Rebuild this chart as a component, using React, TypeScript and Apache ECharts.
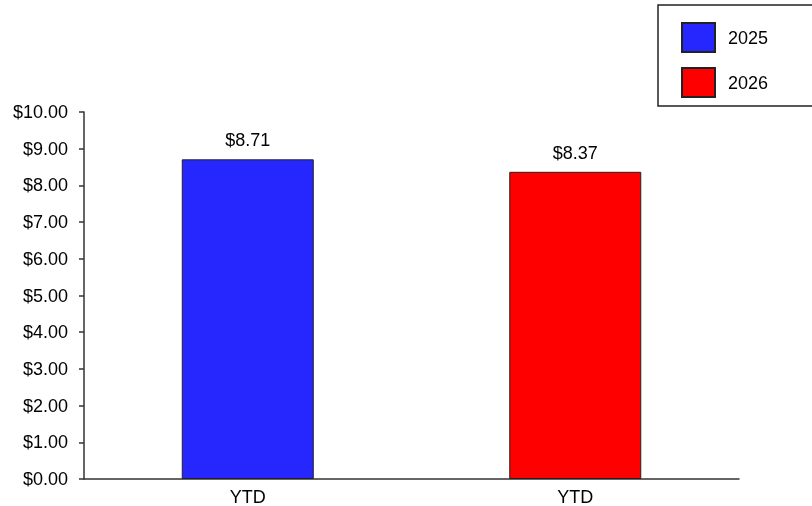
import React, { useEffect, useRef } from "react";
import * as echarts from "echarts";

const categories = ["YTD", "YTD"];
const seriesNames = ["2025", "2026"];
const values2025 = [8.71, null];
const values2026 = [null, 8.37];
const yTicks = { min: 0, max: 10, interval: 1 };

export default function App() {
  const ref = useRef<HTMLDivElement>(null);
  useEffect(() => {
    const chart = echarts.init(ref.current!, null, { renderer: "svg" });
    const font = "'Liberation Sans', Arial, sans-serif";
    const labelCommon = {
      show: true,
      position: "top",
      distance: 10,
      fontSize: 18,
      fontFamily: font,
      color: "#000",
      formatter: (p: any) => "$" + Number(p.value).toFixed(2),
    };
    chart.setOption({
      animation: false,
      grid: { left: 84, right: 73, top: 112, bottom: 27, containLabel: false },
      legend: {
        orient: "vertical",
        left: 681,
        top: 22,
        padding: 0,
        itemWidth: 33,
        itemHeight: 29,
        itemGap: 14,
        icon: "rect",
        textStyle: { fontSize: 18, fontFamily: font, color: "#000", padding: [0, 0, 4, 8] },
        data: seriesNames,
      },
      graphic: [
        {
          type: "rect",
          shape: { x: 658, y: 5, width: 160, height: 101 },
          style: { fill: "none", stroke: "#222", lineWidth: 1.5 },
          silent: true,
        },
      ],
      xAxis: {
        type: "category",
        data: ["a", "b"],
        axisLine: { lineStyle: { color: "#333", width: 1.5 } },
        axisTick: { show: false },
        axisLabel: {
          formatter: (_v: string, i: number) => categories[i],
          fontSize: 18,
          fontFamily: font,
          color: "#000",
          margin: 9,
        },
      },
      yAxis: {
        type: "value",
        min: yTicks.min,
        max: yTicks.max,
        interval: yTicks.interval,
        axisLine: { show: true, lineStyle: { color: "#333", width: 1.5 } },
        axisTick: { show: true, length: 5, lineStyle: { color: "#333", width: 1.5 } },
        splitLine: { show: false },
        axisLabel: {
          formatter: (v: number) => "$" + v.toFixed(2),
          fontSize: 18,
          fontFamily: font,
          color: "#000",
          margin: 16,
        },
      },
      series: [
        {
          name: seriesNames[0],
          type: "bar",
          stack: "s",
          barWidth: 132,
          data: values2025,
          itemStyle: { color: "#2626FF", borderColor: "#222", borderWidth: 1 },
          label: labelCommon,
        },
        {
          name: seriesNames[1],
          type: "bar",
          stack: "s",
          barWidth: 132,
          data: values2026,
          itemStyle: { color: "#FF0000", borderColor: "#222", borderWidth: 1 },
          label: labelCommon,
        },
      ],
    });
    return () => chart.dispose();
  }, []);
  return (
    <div
      ref={ref}
      style={{ position: "fixed", left: 0, top: 0, width: 812, height: 506 }}
    />
  );
}
